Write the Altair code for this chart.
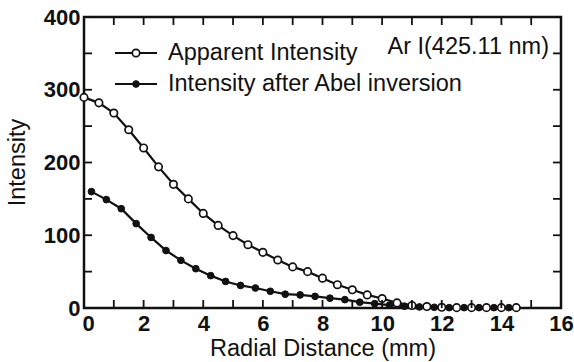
import altair as alt
import pandas as pd

# Apparent intensity (open circles)
x_app = [0, 0.5, 1, 1.5, 2, 2.5, 3, 3.5, 4, 4.5, 5, 5.5, 6, 6.5, 7, 7.5, 8, 8.5,
         9, 9.5, 10, 10.5, 11, 11.5, 12, 12.5, 13, 13.5, 14, 14.5]
y_app = [289.5, 282, 268, 245, 220, 194, 170, 150, 130, 113.5, 99.5, 87, 76.5, 66,
         56.5, 50, 41, 32, 25, 18, 13, 7, 3.5, 2, 1, 0.5, 0.5, 0.5, 0.5, 0.5]

# Intensity after Abel inversion (filled circles)
x_abel = [0.25, 0.75, 1.25, 1.75, 2.25, 2.75, 3.25, 3.75, 4.25, 4.75, 5.25, 5.75,
          6.25, 6.75, 7.25, 7.75, 8.25, 8.75, 9.25, 9.75, 10.25, 10.75, 11.25,
          11.75, 12.25, 12.75, 13.25, 13.75, 14.25]
y_abel = [160, 149, 136.5, 116, 97, 79, 65.5, 54, 44.5, 36.5, 31, 27.5, 23, 19,
          18, 16, 13.5, 11.5, 8, 6, 4, 2.5, 1.5, 1, 0.5, 0.5, 0.5, 0.5, 0.5]

x_labels = [0, 2, 4, 6, 8, 10, 12, 14, 16]
y_labels = [0, 100, 200, 300, 400]
x_minor = list(range(1, 16))
y_minor = [50, 100, 150, 200, 250, 300, 350]

legend_labels = ["Apparent Intensity", "Intensity after Abel inversion"]
annotation = "Ar I(425.11 nm)"

W, H = 477, 291
FONT = "Liberation Sans"
INK = "#111111"
TXT = 23.5

xs = alt.Scale(domain=[0, 16], nice=False)
ys = alt.Scale(domain=[0, 400], nice=False)

app = pd.DataFrame({"x": x_app, "y": y_app})
abel = pd.DataFrame({"x": x_abel, "y": y_abel})

xenc = alt.X("x:Q", scale=xs,
             axis=alt.Axis(values=x_labels, title="Radial Distance (mm)", ticks=False,
                           domain=False, grid=False, labelFont=FONT, labelFontSize=22,
                           labelFontWeight="bold", labelColor=INK, labelPadding=5,
                           labelFlush=False, labelOverlap=False,
                           labelOffset={"condition": {"test": "datum.value == 0", "value": 4},
                                        "value": 0},
                           titleFont=FONT, titleFontSize=TXT, titleFontWeight="normal",
                           titleColor=INK, titleBaseline="alphabetic", titleY=47))
yenc = alt.Y("y:Q", scale=ys,
             axis=alt.Axis(values=y_labels, title="Intensity", ticks=False,
                           domain=False, grid=False, labelFont=FONT, labelFontSize=22,
                           labelFontWeight="bold", labelColor=INK, labelPadding=4,
                           labelFlush=False, labelOverlap=False,
                           titleFont=FONT, titleFontSize=TXT, titleFontWeight="normal",
                           titleColor=INK, titleBaseline="middle", titleX=-67, titleY=145))

line_app = alt.Chart(app).mark_line(color=INK, strokeWidth=2.2).encode(x=xenc, y=yenc)
pts_app = alt.Chart(app).mark_point(shape="circle", filled=True, fill="white",
                                    stroke=INK, strokeWidth=1.7, size=55, opacity=1).encode(
    x=alt.X("x:Q", scale=xs), y=alt.Y("y:Q", scale=ys))
line_abel = alt.Chart(abel).mark_line(color=INK, strokeWidth=2.2).encode(
    x=alt.X("x:Q", scale=xs), y=alt.Y("y:Q", scale=ys))
pts_abel = alt.Chart(abel).mark_point(shape="circle", filled=True, fill=INK,
                                      stroke=INK, strokeWidth=1, size=45, opacity=1).encode(
    x=alt.X("x:Q", scale=xs), y=alt.Y("y:Q", scale=ys))

# inward ticks
xt = pd.DataFrame({"x": x_minor})
yt = pd.DataFrame({"y": y_minor})
tick_bottom = alt.Chart(xt).mark_rule(color=INK, strokeWidth=1.8).encode(
    x=alt.X("x:Q", scale=xs), y=alt.value(H), y2=alt.value(H - 8))
tick_top = alt.Chart(xt).mark_rule(color=INK, strokeWidth=1.8).encode(
    x=alt.X("x:Q", scale=xs), y=alt.value(0), y2=alt.value(8))
tick_left = alt.Chart(yt).mark_rule(color=INK, strokeWidth=1.8).encode(
    y=alt.Y("y:Q", scale=ys), x=alt.value(0), x2=alt.value(8))
tick_right = alt.Chart(yt).mark_rule(color=INK, strokeWidth=1.8).encode(
    y=alt.Y("y:Q", scale=ys), x=alt.value(W), x2=alt.value(W - 8))

one = pd.DataFrame({"a": [0]})
leg_line1 = alt.Chart(one).mark_rule(color=INK, strokeWidth=2.2).encode(
    x=alt.value(31), x2=alt.value(73), y=alt.value(36))
leg_pt1 = alt.Chart(one).mark_point(shape="circle", filled=True, fill="white", stroke=INK,
                                    strokeWidth=1.7, size=55, opacity=1).encode(
    x=alt.value(52), y=alt.value(36))
leg_txt1 = alt.Chart(one).mark_text(align="left", baseline="middle", font=FONT, fontSize=TXT,
                                    color=INK).encode(
    x=alt.value(84), y=alt.value(36), text=alt.value(legend_labels[0]))
leg_line2 = alt.Chart(one).mark_rule(color=INK, strokeWidth=2.2).encode(
    x=alt.value(31), x2=alt.value(73), y=alt.value(67))
leg_pt2 = alt.Chart(one).mark_point(shape="circle", filled=True, fill=INK, stroke=INK,
                                    strokeWidth=1, size=45, opacity=1).encode(
    x=alt.value(52), y=alt.value(67))
leg_txt2 = alt.Chart(one).mark_text(align="left", baseline="middle", font=FONT, fontSize=TXT,
                                    color=INK).encode(
    x=alt.value(84), y=alt.value(67), text=alt.value(legend_labels[1]))
ann = alt.Chart(one).mark_text(align="right", baseline="middle", font=FONT, fontSize=TXT,
                               color=INK).encode(
    x=alt.value(465), y=alt.value(30), text=alt.value(annotation))

chart = alt.layer(
    line_app, line_abel, pts_app, pts_abel,
    tick_bottom, tick_top, tick_left, tick_right,
    leg_line1, leg_pt1, leg_txt1, leg_line2, leg_pt2, leg_txt2, ann,
).properties(
    width=W, height=H,
    autosize=alt.AutoSizeParams(type="none"),
    padding={"left": 84, "top": 17, "right": 13, "bottom": 54},
    background="white",
).configure_view(stroke=INK, strokeWidth=2.5)

chart.save("out.html", embed_options={"renderer": "svg", "actions": False})
